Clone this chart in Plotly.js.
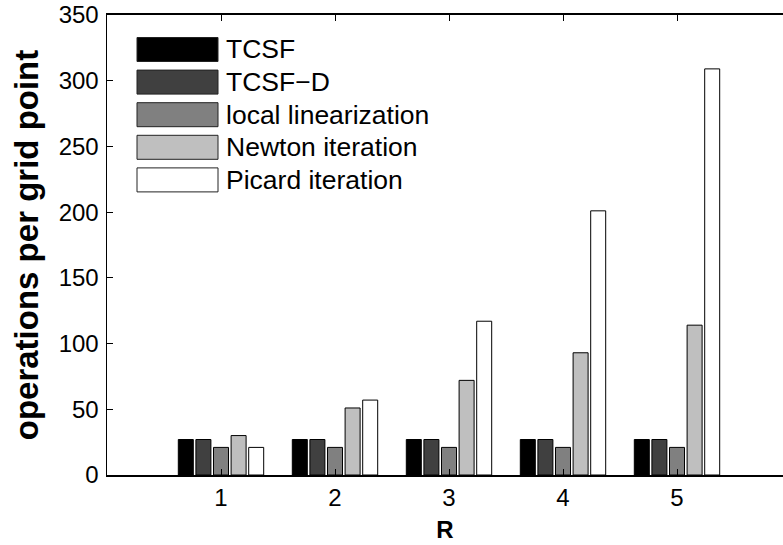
<!DOCTYPE html>
<html>
<head>
<meta charset="utf-8">
<script src="https://cdn.plot.ly/plotly-3.0.1.min.js"></script>
<style>html,body{margin:0;padding:0;background:#fff;}#chart{width:783px;height:545px;}</style>
</head>
<body>
<div id="chart"></div>
<script>
// ---- data ----
const categories = [1, 2, 3, 4, 5];
const seriesNames = ["TCSF", "TCSF\u2212D", "local linearization", "Newton iteration", "Picard iteration"];
const seriesColors = ["#000000", "#404040", "#808080", "#bfbfbf", "#ffffff"];
const tcsf = [27, 27, 27, 27, 27];
const tcsfD = [27, 27, 27, 27, 27];
const localLin = [21, 21, 21, 21, 21];
const newton = [30, 51, 72, 93, 114];
const picard = [21, 57, 117, 201, 309];
const yTicks = [0, 50, 100, 150, 200, 250, 300, 350];
const xTicks = [1, 2, 3, 4, 5];

const seriesValues = [tcsf, tcsfD, localLin, newton, picard];
const FONT = "Liberation Sans, Arial, sans-serif";

const traces = seriesValues.map((vals, i) => ({
  type: "bar",
  x: categories,
  y: vals,
  name: seriesNames[i],
  marker: { color: seriesColors[i], line: { color: "#000", width: 1 } },
  showlegend: false,
  hoverinfo: "x+y+name"
}));

// manual MATLAB-style legend with large swatches
const shapes = [];
const annotations = [];
const legX0 = 137, legX1 = 218, legTop = 37.5, legPitch = 32.6, swH = 24;
seriesNames.forEach((nm, i) => {
  const y0 = legTop + i * legPitch;
  shapes.push({
    type: "rect", xref: "paper", yref: "paper",
    x0: (legX0 - 107) / 676, x1: (legX1 - 107) / 676,
    y0: 1 - (y0 - 15) / 460, y1: 1 - (y0 + swH - 15) / 460,
    fillcolor: seriesColors[i],
    line: { color: "#222", width: 1 }
  });
  annotations.push({
    xref: "paper", yref: "paper",
    x: (224 - 107) / 676, y: 1 - (y0 + swH / 2 - 15) / 460,
    xanchor: "left", yanchor: "middle",
    text: nm, showarrow: false,
    font: { family: FONT, size: 26.5, color: "#000" }
  });
});

const layout = {
  width: 783, height: 545,
  margin: { l: 107, r: 0, t: 15, b: 70, pad: 0 },
  paper_bgcolor: "#fff", plot_bgcolor: "#fff",
  barmode: "group", bargap: 0.228, bargroupgap: 0.148,
  font: { family: FONT, size: 24, color: "#000" },
  showlegend: false,
  xaxis: {
    range: [0, 676 / 114],
    tickmode: "array", tickvals: xTicks, ticktext: xTicks.map(String),
    ticks: "inside", ticklen: 6, tickwidth: 1, tickcolor: "#000",
    showline: true, linecolor: "#000", linewidth: 2, mirror: "ticks",
    showgrid: false, zeroline: false,
    tickfont: { family: FONT, size: 24 },
    title: { text: "<b>R</b>", font: { family: FONT, size: 24 }, standoff: 11 }
  },
  yaxis: {
    range: [0, 350],
    tickmode: "array", tickvals: yTicks, ticktext: yTicks.map(String),
    ticks: "inside", ticklen: 6, tickwidth: 1, tickcolor: "#000",
    showline: true, linecolor: "#000", linewidth: 1.5,
    showgrid: false, zeroline: false,
    tickfont: { family: FONT, size: 24 },
    ticklabelstandoff: 2,
    title: { text: "<b>operations per grid point</b>", font: { family: FONT, size: 33 }, standoff: 10 }
  },
  shapes: shapes,
  annotations: annotations
};

Plotly.newPlot("chart", traces, layout, { displayModeBar: false, staticPlot: true });
</script>
</body>
</html>
